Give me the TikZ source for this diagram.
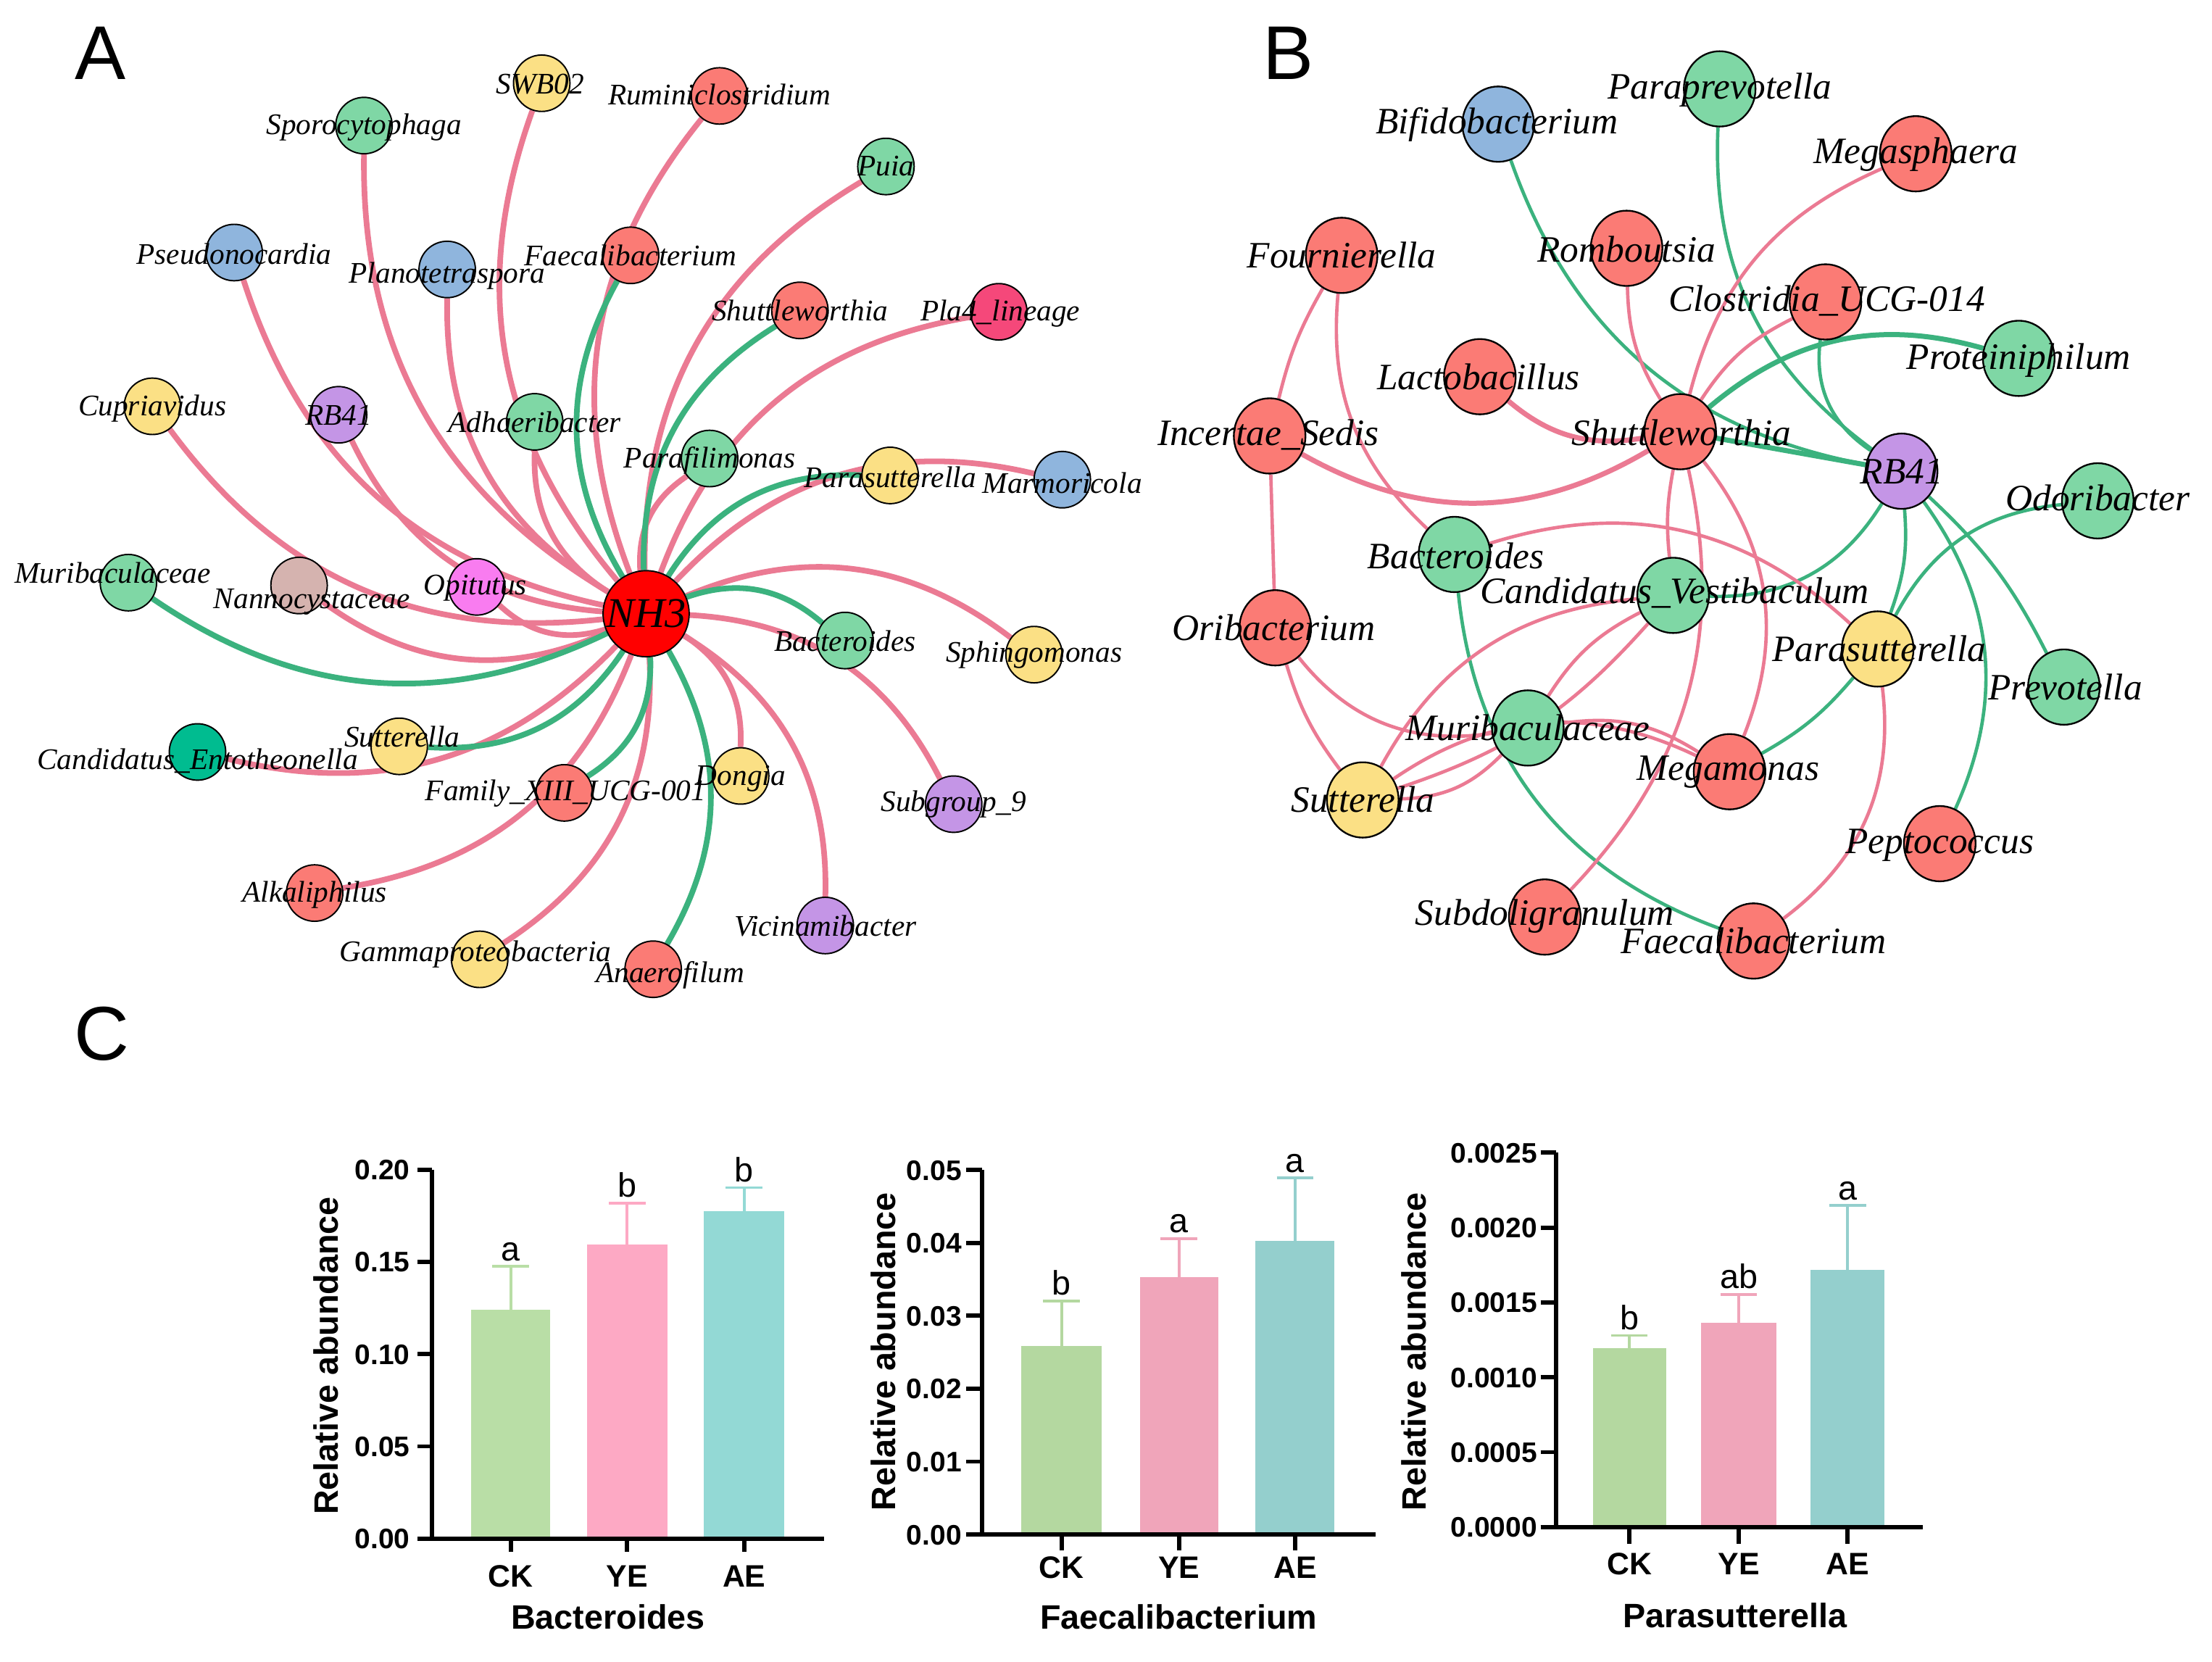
\documentclass[tikz,border=0pt]{standalone}
\usepackage{fontspec}
\setmainfont{Liberation Serif}
\setsansfont{Liberation Sans}
\usetikzlibrary{shapes.geometric}
\pgfdeclarelayer{bglayer}
\pgfdeclarelayer{edgelayer}
\pgfsetlayers{bglayer,edgelayer,main}
\definecolor{ePink}{HTML}{EB7A93}
\definecolor{eGreen}{HTML}{3BB27E}
\definecolor{nGreen}{HTML}{7FD7A5}
\definecolor{nRed}{HTML}{FB7B75}
\definecolor{nYellow}{HTML}{FBE085}
\definecolor{nBlue}{HTML}{8FB5DD}
\definecolor{nPurple}{HTML}{C495E6}
\definecolor{nPla}{HTML}{F5487A}
\definecolor{nBrown}{HTML}{D5B3AF}
\definecolor{nMag}{HTML}{F97CF0}
\definecolor{nTeal}{HTML}{00BC90}
\definecolor{nNH}{HTML}{FF0000}
\definecolor{cGa}{HTML}{B9DEA6}
\definecolor{cPa}{HTML}{FDA9C4}
\definecolor{cTa}{HTML}{93D9D5}
\definecolor{cGb}{HTML}{B4D8A0}
\definecolor{cPb}{HTML}{F0A5BA}
\definecolor{cTb}{HTML}{94CFCD}
\begin{document}
\begin{tikzpicture}[x=0.5pt,y=-0.5pt,
  nA/.style={circle,draw=black,line width=0.5pt,minimum size=20pt,inner sep=0pt},
  nB/.style={ellipse,draw=black,line width=0.6pt,minimum width=25.4pt,minimum height=26.7pt,inner sep=0pt},
  lA/.style={font=\fontsize{10.6}{12}\selectfont\itshape,inner sep=0pt,text height=6.4pt,text depth=0pt},
  lB/.style={font=\fontsize{13.2}{15}\selectfont\itshape,inner sep=0pt,text height=7.9pt,text depth=0pt},
  pinkA/.style={draw=ePink,line width=2pt},
  greenA/.style={draw=eGreen,line width=2pt},
  pinkB/.style={draw=ePink,line width=1.2pt},
  pinkBt/.style={draw=ePink,line width=1.8pt},
  greenB/.style={draw=eGreen,line width=1.2pt},
  greenBt/.style={draw=eGreen,line width=1.8pt},
  panel/.style={font=\sffamily\fontsize{27}{30}\selectfont,inner sep=0pt,text height=19.3pt,text depth=0pt},
  axisC/.style={line width=1.5pt},
  errbar/.style={line width=1pt},
  tickl/.style={font=\sffamily\bfseries\fontsize{10}{12}\selectfont,inner sep=0pt,anchor=east,text height=7.2pt,text depth=0pt},
  xl/.style={font=\sffamily\bfseries\fontsize{11}{13}\selectfont,inner sep=0pt,text height=7.9pt,text depth=0pt},
  ttl/.style={font=\sffamily\bfseries\fontsize{12}{14}\selectfont,inner sep=0pt,text height=8.6pt,text depth=0pt},
  yl/.style={font=\sffamily\bfseries\fontsize{12}{14}\selectfont,inner sep=0pt,text height=8.6pt,text depth=0pt,rotate=90},
  sig/.style={font=\sffamily\fontsize{12}{14}\selectfont,inner sep=0pt,anchor=base},
]
\useasboundingbox (0,0) rectangle (1568,1177.6);
\begin{pgfonlayer}{bglayer}
\fill[white] (0,0) rectangle (1568,1177.6);
\end{pgfonlayer}

% ---------------- Panel letters
\node[panel] (pA) at (71,37) {A};
\node[panel] (pB) at (913,37) {B};
\node[panel] (pC) at (72,732) {C};

% ---------------- Panel A nodes
\node[nA,fill=nYellow] (aSWB) at (384,59) {};
\node[nA,fill=nGreen] (aSpor) at (258,89) {};
\node[nA,fill=nRed] (aRumi) at (510,68) {};
\node[nA,fill=nGreen] (aPuia) at (628,118) {};
\node[nA,fill=nBlue] (aPseu) at (166,179) {};
\node[nA,fill=nBlue] (aPlan) at (317,191) {};
\node[nA,fill=nRed] (aFaec) at (447,181) {};
\node[nA,fill=nRed] (aShut) at (567,220) {};
\node[nA,fill=nPla] (aPla) at (708,221) {};
\node[nA,fill=nYellow] (aCupr) at (108,288) {};
\node[nA,fill=nPurple] (aRB) at (240,294) {};
\node[nA,fill=nGreen] (aAdha) at (379,299) {};
\node[nA,fill=nGreen] (aPara) at (503,325) {};
\node[nA,fill=nYellow] (aPsut) at (631,337) {};
\node[nA,fill=nBlue] (aMarm) at (753,340) {};
\node[nA,fill=nGreen] (aMuri) at (91,413) {};
\node[nA,fill=nBrown] (aNann) at (212,415) {};
\node[nA,fill=nMag] (aOpit) at (338,416) {};
\node[nA,fill=nGreen] (aBact) at (599,454) {};
\node[nA,fill=nYellow] (aSphi) at (733,464) {};
\node[nA,fill=nTeal] (aCand) at (140,533) {};
\node[nA,fill=nYellow] (aSutt) at (283,529) {};
\node[nA,fill=nRed] (aFami) at (400,562) {};
\node[nA,fill=nYellow] (aDong) at (525,550) {};
\node[nA,fill=nPurple] (aSubg) at (676,570) {};
\node[nA,fill=nRed] (aAlka) at (223,633) {};
\node[nA,fill=nPurple] (aVici) at (585,656) {};
\node[nA,fill=nYellow] (aGamm) at (340,680) {};
\node[nA,fill=nRed] (aAnae) at (463,687) {};
\node[nA,fill=nNH,minimum size=30.5pt] (aNH) at (458,435) {};

\begin{pgfonlayer}{edgelayer}
\foreach \n in {aSWB,aSpor,aRumi,aPuia,aPseu,aPlan,aPla,aCupr,aRB,aAdha,aPara,aMarm,aNann,aOpit,aSphi,aCand,aDong,aSubg,aAlka,aVici,aGamm}
  \draw[pinkA] (aNH) to[bend left=30] (\n);
\foreach \n in {aFaec,aShut,aPsut,aBact,aMuri,aSutt,aFami,aAnae}
  \draw[greenA] (aNH) to[bend left=30] (\n);
\end{pgfonlayer}

% Panel A labels
\node[lA] (LaSWB) at (383,60) {SWB02};
\node[lA] (LaSpor) at (258,89) {Sporocytophaga};
\node[lA] (LaRumi) at (510,68) {Ruminiclostridium};
\node[lA] (LaPuia) at (628,118) {Puia};
\node[lA] (LaPseu) at (166,181) {Pseudonocardia};
\node[lA] (LaPlan) at (317,194) {Planotetraspora};
\node[lA] (LaFaec) at (447,182) {Faecalibacterium};
\node[lA] (LaShut) at (567,221) {Shuttleworthia};
\node[lA] (LaPla) at (709,221) {Pla4\_lineage};
\node[lA] (LaCupr) at (108,288) {Cupriavidus};
\node[lA] (LaRB) at (240,295) {RB41};
\node[lA] (LaAdha) at (379,300) {Adhaeribacter};
\node[lA] (LaPara) at (503,325) {Parafilimonas};
\node[lA] (LaPsut) at (631,339) {Parasutterella};
\node[lA] (LaMarm) at (753,343) {Marmoricola};
\node[lA] (LaMuri) at (80,407) {Muribaculaceae};
\node[lA] (LaNann) at (221,425) {Nannocystaceae};
\node[lA] (LaOpit) at (337,415) {Opitutus};
\node[lA] (LaBact) at (599,455) {Bacteroides};
\node[lA] (LaSphi) at (733,463) {Sphingomonas};
\node[lA] (LaCand) at (140,539) {Candidatus\_Entotheonella};
\node[lA] (LaSutt) at (285,523) {Sutterella};
\node[lA] (LaFami) at (401,561) {Family\_XIII\_UCG-001};
\node[lA] (LaDong) at (525,550) {Dongia};
\node[lA] (LaSubg) at (676,569) {Subgroup\_9};
\node[lA] (LaAlka) at (223,633) {Alkaliphilus};
\node[lA] (LaVici) at (585,657) {Vicinamibacter};
\node[lA] (LaGamm) at (337,675) {Gammaproteobacteria};
\node[lA] (LaAnae) at (475,690) {Anaerofilum};
\node[lA,font=\fontsize{15}{17}\selectfont\itshape,text height=9.9pt] (LaNH) at (458,435) {NH3};

% ---------------- Panel B nodes
\node[nB,fill=nGreen] (bParp) at (1219,63) {};
\node[nB,fill=nBlue] (bBifi) at (1062,88) {};
\node[nB,fill=nRed] (bMega) at (1358,109) {};
\node[nB,fill=nRed] (bFour) at (951,181) {};
\node[nB,fill=nRed] (bRomb) at (1153,176) {};
\node[nB,fill=nRed] (bClos) at (1294,214) {};
\node[nB,fill=nGreen] (bProt) at (1431,254) {};
\node[nB,fill=nRed] (bLact) at (1049,267) {};
\node[nB,fill=nRed] (bInce) at (900,309) {};
\node[nB,fill=nRed] (bShut) at (1191,306) {};
\node[nB,fill=nPurple] (bRB) at (1348,334) {};
\node[nB,fill=nGreen] (bOdor) at (1487,355) {};
\node[nB,fill=nGreen] (bBact) at (1031,393) {};
\node[nB,fill=nGreen] (bCand) at (1186,422) {};
\node[nB,fill=nRed] (bOrib) at (904,445) {};
\node[nB,fill=nYellow] (bPsut) at (1331,460) {};
\node[nB,fill=nGreen] (bPrev) at (1463,487) {};
\node[nB,fill=nGreen] (bMuri) at (1083,516) {};
\node[nB,fill=nRed] (bMegm) at (1226,547) {};
\node[nB,fill=nYellow] (bSutt) at (966,567) {};
\node[nB,fill=nRed] (bPept) at (1375,598) {};
\node[nB,fill=nRed] (bSubd) at (1095,650) {};
\node[nB,fill=nRed] (bFaec) at (1243,667) {};

\begin{pgfonlayer}{edgelayer}
% green
\draw[greenB] (bBifi) to[bend right=30] (bRB);
\draw[greenB] (bParp) to[bend right=28] (bRB);
\draw[greenBt] (bShut) to[bend left=28] (bProt);
\draw[greenB] (bClos) to[bend right=32] (bRB);
\draw[greenBt] (bShut) to (bRB);
\draw[greenB] (bRB) to[bend left=30] (bCand);
\draw[greenB] (bRB) to[bend left=12] (bPsut);
\draw[greenB] (bPsut) to[bend left=28] (bOdor);
\draw[greenB] (bRB) to[bend left=10] (bPrev);
\draw[greenB] (bRB) to[bend left=30] (bPept);
\draw[greenB] (bPsut) to[bend left=10] (bMegm);
\draw[greenB] (bBact) to[bend right=32] (bFaec);
% pink
\draw[pinkB] (bFour) to[bend right=8] (bInce);
\draw[pinkB] (bFour) to[bend right=26] (bBact);
\draw[pinkB] (bInce) to (bOrib);
\draw[pinkBt] (bInce) to[bend right=30] (bShut);
\draw[pinkBt] (bLact) to[bend right=25] (bShut);
\draw[pinkB] (bRomb) to[bend right=15] (bShut);
\draw[pinkB] (bMega) to[bend right=26] (bShut);
\draw[pinkB] (bClos) to[bend right=15] (bShut);
\draw[pinkB] (bShut) to[bend right=8] (bCand);
\draw[pinkB] (bShut) to[bend left=28] (bSubd);
\draw[pinkB] (bShut) to[bend left=30] (bMegm);
\draw[pinkB] (bBact) to[bend left=30] (bPsut);
\draw[pinkB] (bOrib) to[bend right=10] (bSutt);
\draw[pinkB] (bOrib) to[bend right=30] (bMuri);
\draw[pinkB] (bSutt) to[bend left=28] (bCand);
\draw[pinkB] (bSutt) to[bend right=22] (bMuri);
\draw[pinkB] (bSutt) to[bend left=30] (bMegm);
\draw[pinkB] (bSutt) to[bend right=15] (bCand);
\draw[pinkB] (bMuri) to[bend left=15] (bCand);
\draw[pinkB] (bMuri) to[bend left=20] (bMegm);
\draw[pinkB] (bPsut) to[bend left=30] (bFaec);
\end{pgfonlayer}

% Panel B labels
\node[lB] (LbParp) at (1219,62) {Paraprevotella};
\node[lB] (LbBifi) at (1061,87) {Bifidobacterium};
\node[lB] (LbMega) at (1358,108) {Megasphaera};
\node[lB] (LbFour) at (951,182) {Fournierella};
\node[lB] (LbRomb) at (1153,178) {Romboutsia};
\node[lB] (LbClos) at (1295,213) {Clostridia\_UCG-014};
\node[lB] (LbProt) at (1431,254) {Proteiniphilum};
\node[lB] (LbLact) at (1048,268) {Lactobacillus};
\node[lB] (LbInce) at (899,308) {Incertae\_Sedis};
\node[lB] (LbShut) at (1192,308) {Shuttleworthia};
\node[lB] (LbRB) at (1348,335) {RB41};
\node[lB] (LbOdor) at (1487,354) {Odoribacter};
\node[lB] (LbBact) at (1032,395) {Bacteroides};
\node[lB] (LbCand) at (1187,420) {Candidatus\_Vestibaculum};
\node[lB] (LbOrib) at (903,446) {Oribacterium};
\node[lB] (LbPsut) at (1332,461) {Parasutterella};
\node[lB] (LbPrev) at (1464,488) {Prevotella};
\node[lB] (LbMuri) at (1083,517) {Muribaculaceae};
\node[lB] (LbMegm) at (1225,545) {Megamonas};
\node[lB] (LbSutt) at (966,568) {Sutterella};
\node[lB] (LbPept) at (1375,597) {Peptococcus};
\node[lB] (LbSubd) at (1095,648) {Subdoligranulum};
\node[lB] (LbFaec) at (1243,668) {Faecalibacterium};

% ---------------- Panel C, chart 1: Bacteroides
\fill[cGa] (334,928.2) rectangle (390,1090.6);
\fill[cPa] (416,881.9) rectangle (473,1090.6);
\fill[cTa] (499,858.7) rectangle (556,1090.6);
\draw[cGa,errbar] (362,928.2) -- (362,897.7) (349,897.7) -- (375,897.7);
\draw[cPa,errbar] (444.5,881.9) -- (444.5,853) (431.5,853) -- (457.5,853);
\draw[cTa,errbar] (527.5,858.7) -- (527.5,841.8) (514.5,841.8) -- (540.5,841.8);
\draw[axisC] (306,829) -- (306,1090.6);
\draw[axisC] (296,1090.6) -- (584,1090.6);
\foreach \yy/\lab [count=\i] in {1090.6/0.00,1025.2/0.05,959.8/0.10,894.4/0.15,829/0.20}{
  \draw[axisC] (296,\yy) -- (306,\yy);
  \node[tickl] (ta\i) at (291,\yy) {\lab};
}
\foreach \xx/\lab [count=\i] in {362/CK,444.5/YE,527.5/AE}{
  \draw[axisC] (\xx,1090.6) -- (\xx,1100);
  \node[xl] (xa\i) at (\xx,1117) {\lab};
}
\node[sig] (sa1) at (362,893.7) {a};
\node[sig] (sa2) at (444.5,848.5) {b};
\node[sig] (sa3) at (527.5,837.5) {b};
\node[yl] (ya) at (231,961) {Relative abundance};
\node[ttl] (tta) at (431,1146) {Bacteroides};

% ---------------- chart 2: Faecalibacterium
\fill[cGb] (724,954) rectangle (781,1087.7);
\fill[cPb] (808,905) rectangle (863.5,1087.7);
\fill[cTb] (890,879.4) rectangle (946,1087.7);
\draw[cGb,errbar] (752.5,954) -- (752.5,922) (739.5,922) -- (765.5,922);
\draw[cPb,errbar] (835.7,905) -- (835.7,877.8) (822.7,877.8) -- (848.7,877.8);
\draw[cTb,errbar] (918,879.4) -- (918,834.9) (905,834.9) -- (931,834.9);
\draw[axisC] (696,829.2) -- (696,1087.7);
\draw[axisC] (685,1087.7) -- (975,1087.7);
\foreach \yy/\lab [count=\i] in {1087.7/0.00,1036/0.01,984.3/0.02,932.6/0.03,880.9/0.04,829.2/0.05}{
  \draw[axisC] (685,\yy) -- (696,\yy);
  \node[tickl] (tb\i) at (682,\yy) {\lab};
}
\foreach \xx/\lab [count=\i] in {752.5/CK,835.7/YE,918/AE}{
  \draw[axisC] (\xx,1087.7) -- (\xx,1099);
  \node[xl] (xb\i) at (\xx,1111) {\lab};
}
\node[sig] (sb1) at (752.5,918) {b};
\node[sig] (sb2) at (835.7,873.8) {a};
\node[sig] (sb3) at (918,830.9) {a};
\node[yl] (yb) at (626,958) {Relative abundance};
\node[ttl] (ttb) at (835.5,1146) {Faecalibacterium};

% ---------------- chart 3: Parasutterella
\fill[cGb] (1129,955.7) rectangle (1181,1082.4);
\fill[cPb] (1206,937.8) rectangle (1259,1082.4);
\fill[cTb] (1283.5,900) rectangle (1336,1082.4);
\draw[cGb,errbar] (1155,955.7) -- (1155,946.6) (1142,946.6) -- (1168,946.6);
\draw[cPb,errbar] (1232.5,937.8) -- (1232.5,917.4) (1219.5,917.4) -- (1245.5,917.4);
\draw[cTb,errbar] (1309.7,900) -- (1309.7,854.4) (1296.7,854.4) -- (1322.7,854.4);
\draw[axisC] (1103,817) -- (1103,1082.4);
\draw[axisC] (1092,1082.4) -- (1363,1082.4);
\foreach \yy/\lab [count=\i] in {1082.4/0.0000,1029.3/0.0005,976.2/0.0010,923.2/0.0015,870.1/0.0020,817/0.0025}{
  \draw[axisC] (1092,\yy) -- (1103,\yy);
  \node[tickl] (tc\i) at (1090,\yy) {\lab};
}
\foreach \xx/\lab [count=\i] in {1155/CK,1232.5/YE,1309.7/AE}{
  \draw[axisC] (\xx,1082.4) -- (\xx,1094.5);
  \node[xl] (xc\i) at (\xx,1108) {\lab};
}
\node[sig] (sc1) at (1155,942.6) {b};
\node[sig] (sc2) at (1232.5,913.4) {ab};
\node[sig] (sc3) at (1309.7,850.4) {a};
\node[yl] (yc) at (1002,958) {Relative abundance};
\node[ttl] (ttc) at (1230,1145) {Parasutterella};
\end{tikzpicture}
\end{document}
